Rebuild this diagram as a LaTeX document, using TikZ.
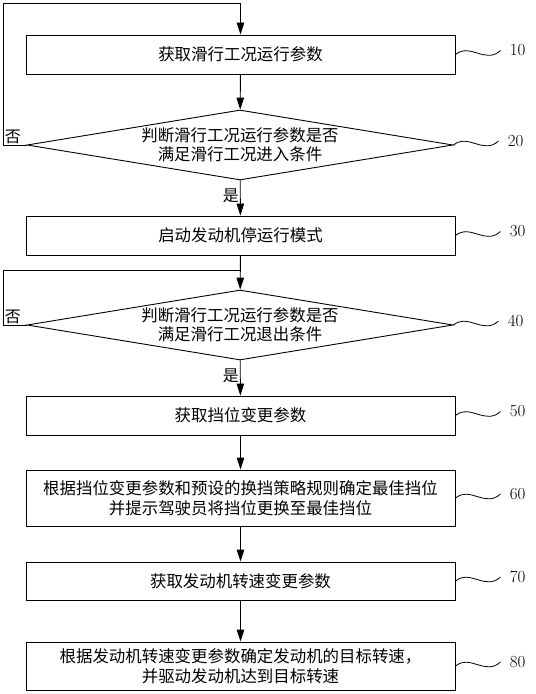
\documentclass[tikz,border=0pt]{standalone}
\usepackage{fontspec}
\newfontfamily\cjk{Noto Sans CJK SC}
\usetikzlibrary{shapes.geometric,arrows.meta}
\begin{document}
\begin{tikzpicture}[x=1bp, y=-1bp, line width=0.9bp, line join=miter,
  >={Triangle[length=12bp,width=7.5bp]},
  stepbox/.style={draw, minimum width=429bp, inner sep=0pt, align=center,
    font=\cjk\fontsize{16.5}{20}\selectfont},
  checkbox/.style={draw, diamond, aspect=6, minimum width=426bp, minimum height=70bp,
    inner sep=0pt, align=center, font=\cjk\fontsize{16.5}{19}\selectfont},
  branch/.style={font=\cjk\fontsize{16}{16}\selectfont, inner sep=1bp},
  refnum/.style={right, inner sep=0pt, xshift=9bp, font=\fontsize{17}{17}\selectfont}]
  \useasboundingbox (0,0) rectangle (536,694);
  % steps
  \node[stepbox, minimum height=39bp] (getpar) at (240.5,54.5) {获取滑行工况运行参数};
  \node[checkbox] (judgein) at (240,145) {判断滑行工况运行参数是否\\满足滑行工况进入条件};
  \node[stepbox, minimum height=39bp] (stopmode) at (240.5,235.5) {启动发动机停运行模式};
  \node[checkbox] (judgeout) at (240,325) {判断滑行工况运行参数是否\\满足滑行工况退出条件};
  \node[stepbox, minimum height=39bp] (getgear) at (240.5,415.5) {获取挡位变更参数};
  \node[stepbox, minimum height=56bp] (bestgear) at (240.5,498)
    {根据挡位变更参数和预设的换挡策略规则确定最佳挡位\\并提示驾驶员将挡位更换至最佳挡位};
  \node[stepbox, minimum height=38bp] (getspeed) at (240.5,581) {获取发动机转速变更参数};
  \node[stepbox, minimum height=48bp] (target) at (240.5,666)
    {根据发动机转速变更参数确定发动机的目标转速，\\并驱动发动机达到目标转速};
  % main flow
  \draw[->] (getpar) -- (judgein);
  \draw[->] (judgein) -- (stopmode) node[pos=0.45, left, branch] {是};
  \draw[->] (stopmode) -- (judgeout);
  \draw[->] (judgeout) -- (getgear) node[pos=0.45, left, branch] {是};
  \draw[->] (getgear) -- (bestgear);
  \draw[->] (bestgear) -- (getspeed);
  \draw[->] (getspeed) -- (target);
  % loops back
  \draw[->] (judgein.west) -- ++(-23,0) node[above right, branch] {否}
    |- ([yshift=31bp]getpar.north) -- (getpar.north);
  \draw (judgeout.west) -- ++(-23,0) node[above right, branch] {否}
    |- ([yshift=19bp]judgeout.north);
  % reference numbers
  \foreach \n/\t in {getpar/10, judgein/20, stopmode/30, judgeout/40,
                     getgear/50, bestgear/60, getspeed/70, target/80}
    \draw[line width=0.8bp] (\n.east) .. controls +(15,-12) and +(-15,14) .. ++(45,-4)
      node[refnum] {\t};
\end{tikzpicture}
\end{document}
